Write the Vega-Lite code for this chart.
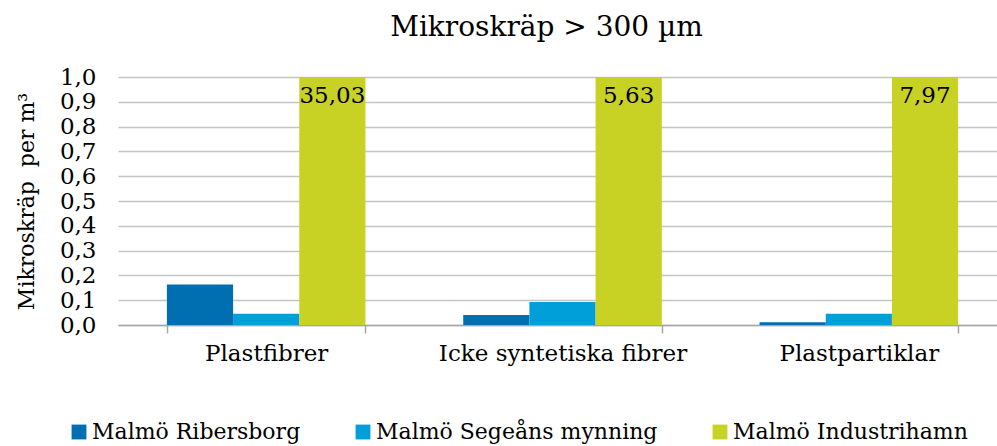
{
  "$schema": "https://vega.github.io/schema/vega-lite/v6.json",
  "autosize": {"type": "none"},
  "padding": {"left": 118, "top": 77, "right": 0, "bottom": 121},
  "width": 889,
  "height": 248,
  "title": {
    "text": "Mikroskräp > 300 µm",
    "font": "DejaVu Serif",
    "fontSize": 28,
    "fontWeight": "normal",
    "color": "#000000",
    "anchor": "middle",
    "dx": -16,
    "offset": 24
  },
  "data": {
    "values": [
      {"kategori": "Plastfibrer", "plats": "Malmö Ribersborg", "varde": 0.163},
      {"kategori": "Plastfibrer", "plats": "Malmö Segeåns mynning", "varde": 0.045},
      {"kategori": "Plastfibrer", "plats": "Malmö Industrihamn", "varde": 35.03},
      {"kategori": "Icke syntetiska fibrer", "plats": "Malmö Ribersborg", "varde": 0.04},
      {"kategori": "Icke syntetiska fibrer", "plats": "Malmö Segeåns mynning", "varde": 0.093},
      {"kategori": "Icke syntetiska fibrer", "plats": "Malmö Industrihamn", "varde": 5.63},
      {"kategori": "Plastpartiklar", "plats": "Malmö Ribersborg", "varde": 0.011},
      {"kategori": "Plastpartiklar", "plats": "Malmö Segeåns mynning", "varde": 0.045},
      {"kategori": "Plastpartiklar", "plats": "Malmö Industrihamn", "varde": 7.97}
    ]
  },
  "encoding": {
    "x": {
      "field": "kategori",
      "type": "nominal",
      "sort": ["Plastfibrer", "Icke syntetiska fibrer", "Plastpartiklar"],
      "scale": {"paddingInner": 0.33, "paddingOuter": 0.165},
      "axis": {
        "title": null,
        "labelAngle": 0,
        "labelLimit": 400,
        "tickBand": "extent",
        "tickSize": 8,
        "tickColor": "#A6A6A6",
        "tickWidth": 1.5,
        "domainColor": "#A6A6A6",
        "domainWidth": 1.5,
        "labelPadding": 9,
        "labelFont": "DejaVu Serif",
        "labelFontSize": 23,
        "labelColor": "#000000",
        "grid": false
      }
    },
    "xOffset": {
      "field": "plats",
      "type": "nominal",
      "sort": ["Malmö Ribersborg", "Malmö Segeåns mynning", "Malmö Industrihamn"],
      "scale": {"paddingInner": 0, "paddingOuter": 0}
    },
    "y": {
      "field": "varde",
      "type": "quantitative",
      "scale": {"domain": [0, 1], "clamp": true, "nice": false},
      "axis": {
        "title": "Mikroskräp\u00a0 per m³",
        "titleFont": "DejaVu Serif",
        "titleFontSize": 22,
        "titleFontWeight": "normal",
        "titleColor": "#000000",
        "titlePadding": 21,
        "values": [0, 0.1, 0.2, 0.3, 0.4, 0.5, 0.6, 0.7, 0.8, 0.9, 1.0],
        "format": ".1f",
        "labelFont": "DejaVu Serif",
        "labelFontSize": 23,
        "labelColor": "#000000",
        "labelPadding": 22,
        "ticks": false,
        "domain": false,
        "grid": true,
        "gridColor": "#C4C4C4",
        "gridWidth": 1.5
      }
    }
  },
  "layer": [
    {
      "mark": {"type": "bar"},
      "encoding": {
        "color": {
          "field": "plats",
          "type": "nominal",
          "sort": ["Malmö Ribersborg", "Malmö Segeåns mynning", "Malmö Industrihamn"],
          "scale": {
            "domain": ["Malmö Ribersborg", "Malmö Segeåns mynning", "Malmö Industrihamn"],
            "range": ["#006FB1", "#009FDA", "#C8D225"]
          },
          "legend": {
            "title": null,
            "orient": "none",
            "direction": "horizontal",
            "legendX": -50,
            "legendY": 344,
            "symbolType": "square",
            "symbolSize": 220,
            "symbolStrokeWidth": 0,
            "labelFont": "DejaVu Serif",
            "labelFontSize": 22,
            "labelColor": "#000000",
            "labelLimit": 400,
            "labelOffset": 2,
            "columnPadding": 51
          }
        }
      }
    },
    {
      "transform": [{"filter": "datum.varde > 1"}],
      "mark": {
        "type": "text",
        "font": "DejaVu Serif",
        "fontSize": 23,
        "color": "#000000",
        "baseline": "top",
        "dy": 8
      },
      "encoding": {
        "text": {"field": "varde", "type": "quantitative", "format": ".2f"}
      }
    }
  ],
  "config": {
    "locale": {
      "number": {
        "decimal": ",",
        "thousands": " ",
        "grouping": [3],
        "currency": ["", " kr"]
      }
    },
    "view": {"stroke": null}
  }
}
